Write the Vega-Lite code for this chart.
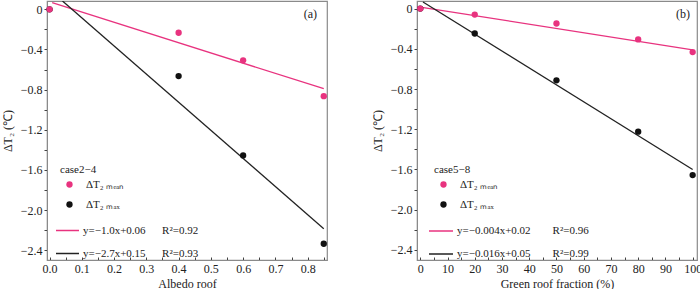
{
  "$schema": "https://vega.github.io/schema/vega-lite/v6.json",
  "padding": {"left": 0, "top": 0, "right": 0, "bottom": 0},
  "bounds": "flush",
  "spacing": 90,
  "config": {
    "font": "Liberation Serif",
    "view": {"stroke": "#8a8a8a", "strokeWidth": 1.2},
    "axis": {
      "grid": false,
      "domainColor": "#8a8a8a",
      "tickColor": "#444",
      "labelFont": "Liberation Serif",
      "titleFont": "Liberation Serif",
      "labelFontSize": 12,
      "titleFontSize": 12,
      "titleFontWeight": "normal",
      "labelColor": "#222",
      "titleColor": "#222",
      "labelFlush": false,
      "labelOverlap": false
    },
    "legend": {
      "labelFont": "Liberation Serif",
      "titleFont": "Liberation Serif",
      "labelColor": "#222",
      "titleColor": "#222"
    },
    "title": {"font": "Liberation Serif", "fontSize": 12, "fontWeight": "normal", "color": "#222"}
  },
  "datasets": {
    "pointsA": [
      {"x": 0, "y": 0, "s": "ΔT₂ ₘₐₓ"},
      {"x": 0.4, "y": -0.665, "s": "ΔT₂ ₘₐₓ"},
      {"x": 0.6, "y": -1.455, "s": "ΔT₂ ₘₐₓ"},
      {"x": 0.85, "y": -2.335, "s": "ΔT₂ ₘₐₓ"},
      {"x": 0, "y": 0, "s": "ΔT₂ ₘₑₐₙ"},
      {"x": 0.4, "y": -0.233, "s": "ΔT₂ ₘₑₐₙ"},
      {"x": 0.6, "y": -0.508, "s": "ΔT₂ ₘₑₐₙ"},
      {"x": 0.85, "y": -0.865, "s": "ΔT₂ ₘₑₐₙ"}
    ],
    "fitsA": [
      {"x": 0.008, "y": 0.066, "f": "y=−1.0x+0.06\u2003\u2002R²=0.92"},
      {"x": 0.85, "y": -0.79, "f": "y=−1.0x+0.06\u2003\u2002R²=0.92"},
      {"x": 0.04, "y": 0.083, "f": "y=−2.7x+0.15\u2003\u2002R²=0.93"},
      {"x": 0.85, "y": -2.185, "f": "y=−2.7x+0.15\u2003\u2002R²=0.93"}
    ],
    "pointsB": [
      {"x": 0, "y": 0, "s": "ΔT₂ ₘₐₓ"},
      {"x": 20, "y": -0.248, "s": "ΔT₂ ₘₐₓ"},
      {"x": 50, "y": -0.714, "s": "ΔT₂ ₘₐₓ"},
      {"x": 80, "y": -1.224, "s": "ΔT₂ ₘₐₓ"},
      {"x": 100, "y": -1.656, "s": "ΔT₂ ₘₐₓ"},
      {"x": 0, "y": 0, "s": "ΔT₂ ₘₑₐₙ"},
      {"x": 20, "y": -0.06, "s": "ΔT₂ ₘₑₐₙ"},
      {"x": 50, "y": -0.149, "s": "ΔT₂ ₘₑₐₙ"},
      {"x": 80, "y": -0.307, "s": "ΔT₂ ₘₑₐₙ"},
      {"x": 100, "y": -0.433, "s": "ΔT₂ ₘₑₐₙ"}
    ],
    "fitsB": [
      {"x": 0, "y": 0.015, "f": "y=−0.004x+0.02\u2003\u2003R²=0.96"},
      {"x": 100, "y": -0.41, "f": "y=−0.004x+0.02\u2003\u2003R²=0.96"},
      {"x": 1, "y": 0.065, "f": "y=−0.016x+0.05\u2003\u2003R²=0.99"},
      {"x": 100, "y": -1.6, "f": "y=−0.016x+0.05\u2003\u2003R²=0.99"}
    ]
  },
  "resolve": {
    "scale": {"x": "independent", "y": "independent", "fill": "independent", "stroke": "independent"},
    "legend": {"fill": "independent", "stroke": "independent"}
  },
  "hconcat": [
    {
      "width": 280,
      "height": 259,
      "title": {"text": "(a)", "anchor": "end", "frame": "group", "dx": -10, "dy": 24, "fontSize": 12},
      "encoding": {
        "x": {"field": "x", "type": "quantitative", "scale": {"domain": [-0.008, 0.86], "nice": false, "zero": false},
          "axis": {"title": "Albedo roof", "values": [0, 0.05, 0.1, 0.15, 0.2, 0.25, 0.3, 0.35, 0.4, 0.45, 0.5, 0.55, 0.6, 0.65, 0.7, 0.75, 0.8, 0.85],
            "labelExpr": "round(datum.value*100) % 10 == 0 ? format(datum.value, '.1f') : ''",
            "labelOverlap": false, "labelFlush": false,
            "tickSize": -3, "labelPadding": 6, "titlePadding": 4}},
        "y": {"field": "y", "type": "quantitative", "scale": {"domain": [-2.497, 0.083], "nice": false, "zero": false},
          "axis": {"title": "ΔT₂ (℃)", "values": [0, -0.2, -0.4, -0.6, -0.8, -1.0, -1.2, -1.4, -1.6, -1.8, -2.0, -2.2, -2.4],
            "labelExpr": "round(abs(datum.value)*10) % 4 == 0 ? (datum.value == 0 ? '0' : format(datum.value, '.1f')) : ''",
            "labelOverlap": false,
            "tickSize": 3, "labelPadding": 2, "titlePadding": 6}}
      },
      "layer": [
        {
          "data": {"name": "fitsA"},
          "mark": {"type": "line", "strokeWidth": 1.3, "clip": true},
          "encoding": {
            "stroke": {"field": "f", "type": "nominal",
              "scale": {"domain": ["y=−1.0x+0.06\u2003\u2002R²=0.92", "y=−2.7x+0.15\u2003\u2002R²=0.93"], "range": ["#e8337f", "#222222"]},
              "legend": {"title": null, "orient": "none", "legendX": 8, "legendY": 217, "symbolType": "stroke", "symbolSize": 529, "symbolStrokeWidth": 1.5, "labelOffset": 3, "rowPadding": 5, "labelFontSize": 11}}
          }
        },
        {
          "data": {"name": "pointsA"},
          "mark": {"type": "circle", "size": 40, "opacity": 1},
          "encoding": {
            "fill": {"field": "s", "type": "nominal",
              "scale": {"domain": ["ΔT₂ ₘₑₐₙ", "ΔT₂ ₘₐₓ"], "range": ["#e8337f", "#111111"]},
              "legend": {"title": "case2−4", "orient": "none", "legendX": 13, "legendY": 163, "symbolType": "circle", "symbolSize": 40, "symbolOffset": 4, "labelOffset": 11, "rowPadding": 8, "titlePadding": 4, "titleFontWeight": "normal", "titleFontSize": 11, "labelFontSize": 11}}
          }
        }
      ]
    },
    {
      "width": 280,
      "height": 259,
      "title": {"text": "(b)", "anchor": "end", "frame": "group", "dx": -7, "dy": 24, "fontSize": 12},
      "encoding": {
        "x": {"field": "x", "type": "quantitative", "scale": {"domain": [-1.2, 101.6], "nice": false, "zero": false},
          "axis": {"title": "Green roof fraction (%)", "values": [0, 5, 10, 15, 20, 25, 30, 35, 40, 45, 50, 55, 60, 65, 70, 75, 80, 85, 90, 95, 100],
            "labelExpr": "datum.value % 10 == 0 ? format(datum.value, 'd') : ''",
            "labelOverlap": false, "labelFlush": false,
            "tickSize": -3, "labelPadding": 6, "titlePadding": 4}},
        "y": {"field": "y", "type": "quantitative", "scale": {"domain": [-2.5, 0.075], "nice": false, "zero": false},
          "axis": {"title": "ΔT₂ (℃)", "values": [0, -0.2, -0.4, -0.6, -0.8, -1.0, -1.2, -1.4, -1.6, -1.8, -2.0, -2.2, -2.4],
            "labelExpr": "round(abs(datum.value)*10) % 4 == 0 ? (datum.value == 0 ? '0' : format(datum.value, '.1f')) : ''",
            "labelOverlap": false,
            "tickSize": 3, "labelPadding": 2, "titlePadding": 6}}
      },
      "layer": [
        {
          "data": {"name": "fitsB"},
          "mark": {"type": "line", "strokeWidth": 1.3, "clip": true},
          "encoding": {
            "stroke": {"field": "f", "type": "nominal",
              "scale": {"domain": ["y=−0.004x+0.02\u2003\u2003R²=0.96", "y=−0.016x+0.05\u2003\u2003R²=0.99"], "range": ["#e8337f", "#222222"]},
              "legend": {"title": null, "orient": "none", "legendX": 11, "legendY": 217, "symbolType": "stroke", "symbolSize": 576, "symbolStrokeWidth": 1.5, "labelOffset": 3, "rowPadding": 5, "labelFontSize": 11}}
          }
        },
        {
          "data": {"name": "pointsB"},
          "mark": {"type": "circle", "size": 40, "opacity": 1},
          "encoding": {
            "fill": {"field": "s", "type": "nominal",
              "scale": {"domain": ["ΔT₂ ₘₑₐₙ", "ΔT₂ ₘₐₓ"], "range": ["#e8337f", "#111111"]},
              "legend": {"title": "case5−8", "orient": "none", "legendX": 17, "legendY": 163, "symbolType": "circle", "symbolSize": 40, "symbolOffset": 4, "labelOffset": 11, "rowPadding": 8, "titlePadding": 4, "titleFontWeight": "normal", "titleFontSize": 11, "labelFontSize": 11}}
          }
        }
      ]
    }
  ]
}
